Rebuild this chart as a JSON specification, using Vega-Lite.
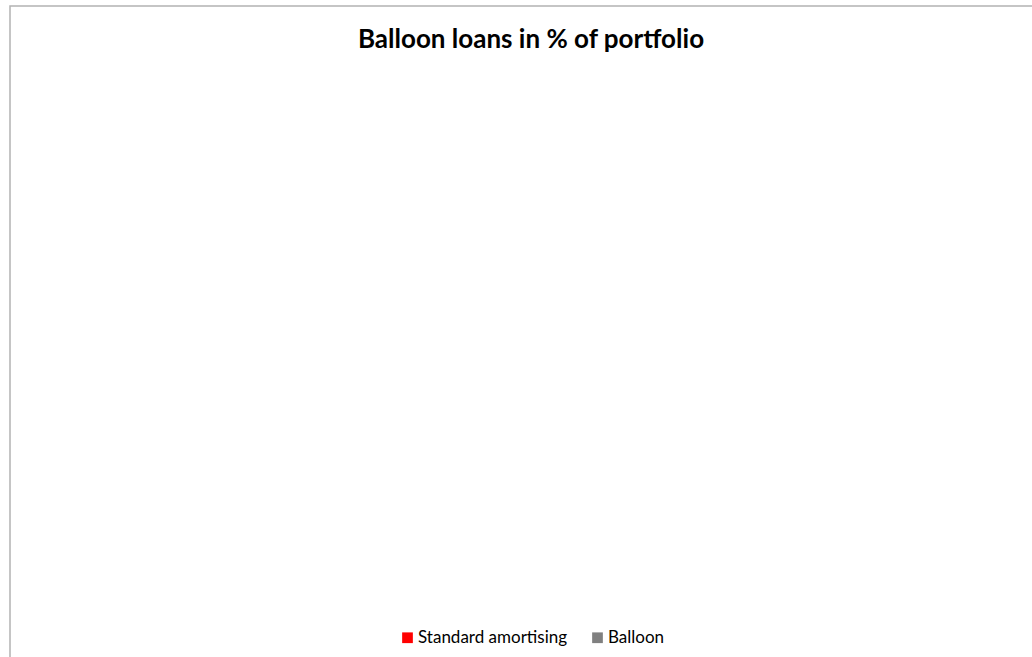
{
  "$schema": "https://vega.github.io/schema/vega-lite/v6.json",
  "autosize": {"type": "none"},
  "width": 1028,
  "height": 657,
  "padding": {"left": 10, "top": 6, "right": -6, "bottom": -6},
  "background": "white",
  "view": {"stroke": "#b3b3b3", "strokeWidth": 1.5, "fill": "white"},
  "title": {
    "text": "Balloon loans in % of portfolio",
    "font": "Lato",
    "fontSize": 26,
    "fontWeight": "bold",
    "color": "#000000",
    "anchor": "middle",
    "orient": "top",
    "baseline": "alphabetic",
    "offset": -40,
    "dy": 28,
    "dx": 7
  },
  "data": {
    "values": [
      {"category": "Standard amortising", "share": 0},
      {"category": "Balloon", "share": 0}
    ]
  },
  "mark": {"type": "arc"},
  "encoding": {
    "theta": {"field": "share", "type": "quantitative"},
    "color": {
      "field": "category",
      "type": "nominal",
      "sort": null,
      "scale": {"domain": ["Standard amortising", "Balloon"], "range": ["#FF0000", "#808080"]},
      "legend": {
        "title": null,
        "orient": "none",
        "direction": "horizontal",
        "legendX": 389,
        "legendY": 623,
        "symbolType": "square",
        "symbolSize": 115,
        "symbolStrokeWidth": 0,
        "labelFont": "Lato",
        "labelFontSize": 17,
        "labelColor": "#000000",
        "labelOffset": 2,
        "columnPadding": 21
      }
    }
  }
}
